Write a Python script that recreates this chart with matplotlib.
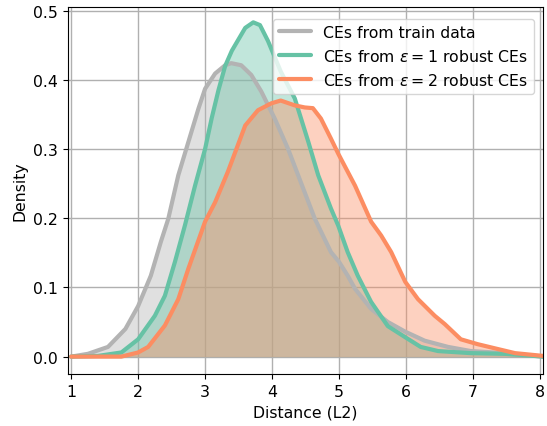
import matplotlib
matplotlib.use("Agg")
import matplotlib.pyplot as plt

plt.rcParams["font.size"] = 11.3

# Distance (L2) values and densities
train_x = [1.0, 1.25, 1.55, 1.81, 2.0, 2.19, 2.34, 2.45, 2.60, 2.75, 2.90, 3.0, 3.15, 3.30, 3.39, 3.54, 3.69, 3.84, 4.04, 4.24, 4.43, 4.64, 4.88, 5.0, 5.13, 5.24, 5.48, 5.73, 5.99, 6.28, 6.63, 6.97, 7.48, 8.05]
train_y = [0.0, 0.004, 0.014, 0.04, 0.073, 0.117, 0.166, 0.199, 0.262, 0.31, 0.358, 0.387, 0.409, 0.421, 0.424, 0.421, 0.407, 0.383, 0.344, 0.30, 0.252, 0.199, 0.151, 0.137, 0.117, 0.098, 0.069, 0.05, 0.036, 0.023, 0.014, 0.008, 0.005, 0.0]

eps1_x = [1.0, 1.4, 1.75, 2.0, 2.25, 2.40, 2.55, 2.70, 2.85, 3.0, 3.10, 3.20, 3.30, 3.40, 3.60, 3.72, 3.82, 3.94, 4.13, 4.34, 4.54, 4.69, 4.88, 4.99, 5.13, 5.28, 5.48, 5.73, 5.99, 6.22, 6.48, 6.97, 7.48, 8.05]
eps1_y = [0.0, 0.001, 0.006, 0.025, 0.059, 0.088, 0.137, 0.19, 0.247, 0.30, 0.345, 0.385, 0.42, 0.442, 0.475, 0.483, 0.479, 0.456, 0.412, 0.373, 0.311, 0.262, 0.214, 0.189, 0.151, 0.117, 0.079, 0.044, 0.028, 0.014, 0.008, 0.005, 0.004, 0.0]

eps2_x = [1.0, 1.75, 2.0, 2.15, 2.40, 2.60, 2.75, 3.0, 3.15, 3.34, 3.60, 3.79, 3.99, 4.13, 4.34, 4.49, 4.61, 4.73, 4.88, 4.99, 5.24, 5.48, 5.63, 5.78, 5.99, 6.18, 6.43, 6.58, 6.82, 7.07, 7.37, 7.63, 8.05]
eps2_y = [0.0, 0.0, 0.006, 0.014, 0.045, 0.083, 0.127, 0.195, 0.223, 0.267, 0.334, 0.356, 0.366, 0.37, 0.363, 0.36, 0.359, 0.344, 0.315, 0.293, 0.247, 0.195, 0.175, 0.151, 0.108, 0.083, 0.059, 0.047, 0.025, 0.018, 0.011, 0.005, 0.001]

labels = ["CEs from train data",
          r"CEs from $\varepsilon = 1$ robust CEs",
          r"CEs from $\varepsilon = 2$ robust CEs"]
colors = ["#b3b3b3", "#66c2a5", "#fc8d62"]

fig = plt.figure(figsize=(5.47, 4.27), dpi=100)
ax = fig.add_axes([0.124, 0.122, 0.869, 0.859])

series = [(train_x, train_y), (eps1_x, eps1_y), (eps2_x, eps2_y)]
for (xs, ys), c, lab in zip(series, colors, labels):
    ax.fill_between(xs, ys, 0, color=c, alpha=0.4, linewidth=0)
    ax.plot(xs, ys, color=c, linewidth=3, label=lab, solid_capstyle="round",
            solid_joinstyle="round")

ax.set_xlim(0.95, 8.05)
ax.set_ylim(-0.025, 0.505)
ax.set_xticks([1, 2, 3, 4, 5, 6, 7, 8])
ax.set_yticks([0.0, 0.1, 0.2, 0.3, 0.4, 0.5])
ax.grid(True, color="#b0b0b0", linewidth=1)
ax.set_axisbelow(True)
ax.set_xlabel("Distance (L2)")
ax.set_ylabel("Density")
ax.legend(loc="upper right", bbox_to_anchor=(0.998, 0.99))

fig.savefig("out.png", dpi=100)
